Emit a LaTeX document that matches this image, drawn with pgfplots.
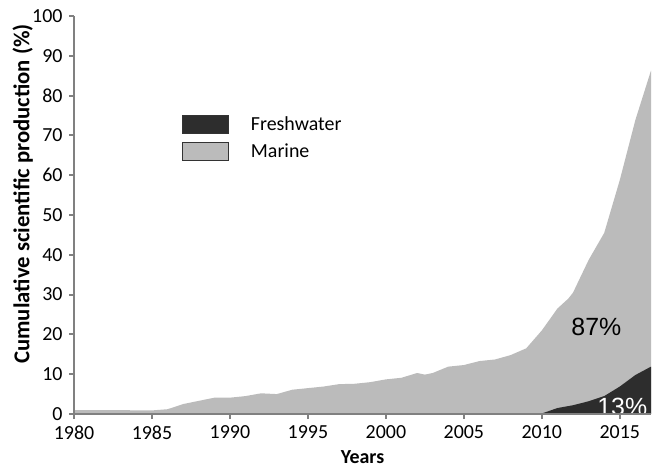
\documentclass[border=0pt]{standalone}
\usepackage{pgfplots}
\pgfplotsset{compat=1.18}
\usepackage{fontspec}
\setmainfont{Carlito}
\newfontfamily\arialfont{Liberation Sans}
\definecolor{marine}{RGB}{187,187,187}
\definecolor{fresh}{RGB}{45,45,45}
\definecolor{axgray}{RGB}{128,128,128}
\begin{document}
\begin{tikzpicture}
\begin{axis}[
  scale only axis,
  width=577bp, height=398bp,
  xmin=1980, xmax=2017, ymin=0, ymax=100,
  axis x line=bottom, axis y line=left,
  axis line style={axgray, line width=2.2bp, -},
  every tick/.style={axgray, line width=2bp},
  tick align=outside, major tick length=5bp,
  xtick={1980,1985,...,2015}, ytick={0,10,...,100},
  xticklabel style={/pgf/number format/1000 sep={}},
  /pgf/number format/assume math mode=true,
  tick label style={font=\fontsize{20}{23}\selectfont, text=black},
  xticklabel style={yshift=-3bp},
  yticklabel style={xshift=-3bp},
  axis on top,
  xlabel={\bfseries Years},
  xlabel style={font=\fontsize{20}{23}\selectfont, inner sep=0pt, at={(axis description cs:0.5,-0.1256)}, anchor=base},
  ylabel={\bfseries Cumulative scientific production (\%)},
  ylabel style={font=\fontsize{22.8}{26}\selectfont, at={(axis description cs:-0.089,0.553)}, anchor=center, rotate=0},
  legend cell align=left,
  legend style={at={(axis cs:1986.73,75.85)}, anchor=north west, draw=none, fill=none,
    font=\fontsize{20}{23}\selectfont, row sep=8bp,
    /tikz/every odd column/.append style={column sep=20bp}},
  legend image code/.code={\draw[#1,draw=black!80,line width=0.8pt] (0bp,-9bp) rectangle (46bp,9bp);},
]
\addplot[fill=marine, draw=none, forget plot] table {
x y
1980 1.0
1981 1.0
1982 1.0
1983 1.0
1984 0.9
1985 0.9
1986 1.2
1987 2.5
1988 3.3
1989 4.1
1990 4.1
1991 4.5
1992 5.2
1993 5.0
1994 6.1
1995 6.5
1996 6.9
1997 7.5
1998 7.6
1999 8.0
2000 8.7
2001 9.1
2002 10.3
2002.5 9.9
2003 10.3
2004 11.9
2005 12.3
2006 13.3
2007 13.7
2008 14.8
2009 16.5
2010 21.0
2011 26.5
2011.7 29.0
2012 30.5
2013 38.7
2014 45.5
2015 58.8
2016 73.9
2017 86.3
} \closedcycle;
\addplot[fill=fresh, draw=none, forget plot] table {
x y
2009.9 0
2010.2 0.4
2011 1.5
2012 2.2
2013 3.2
2014 4.5
2015 6.9
2016 9.8
2017 11.9
} \closedcycle;
\addlegendimage{fill=fresh}
\addlegendentry{Freshwater}
\addlegendimage{fill=marine}
\addlegendentry{Marine}
\node[font=\arialfont\fontsize{25}{28}\selectfont, text=black] at (axis cs:2013.5,21.9) {87\%};
\node[font=\arialfont\fontsize{25}{28}\selectfont, text=white, anchor=base west, inner sep=0pt] at (axis cs:2013.55,-0.3) {13\%};
\end{axis}
\pgfresetboundingbox
\path[use as bounding box] (-74bp,-54bp) rectangle (578bp,414bp);
\end{tikzpicture}
\end{document}
